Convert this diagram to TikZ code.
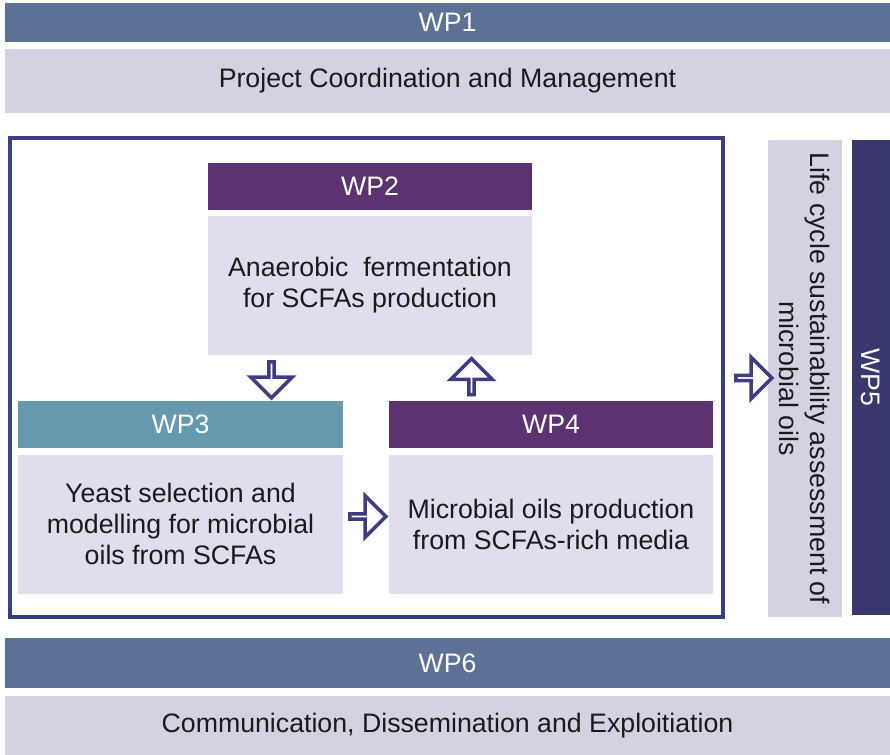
\documentclass[tikz,border=0pt]{standalone}
\usepackage{fontspec}
\setmainfont{Liberation Sans}
\usetikzlibrary{positioning,shapes.arrows}
\definecolor{wpblue}{HTML}{5D7096}
\definecolor{wppurple}{HTML}{5C3370}
\definecolor{wpteal}{HTML}{6698AE}
\definecolor{wpnavy}{HTML}{38386F}
\definecolor{lilac}{HTML}{D6D1E1}
\definecolor{lilaclight}{HTML}{E1DDEC}
\definecolor{framenavy}{HTML}{3D3E7F}
\definecolor{ink}{HTML}{1A1A1A}

\begin{document}
\begin{tikzpicture}[x=0.025cm,y=-0.025cm,
  wpbar/.style={fill=#1, text=white, inner sep=0pt, font=\fontsize{19}{22}\selectfont},
  wpbody/.style={fill=#1, text=ink, inner sep=0pt, align=center, font=\fontsize{19}{22}\selectfont},
  blockarrow/.style={single arrow, draw=framenavy, fill=white, line width=2.5pt,
    minimum height=0.9cm, minimum width=1.04cm, single arrow head extend=0.29cm, inner sep=0pt}]
  \useasboundingbox (0,0) rectangle (890,755);

  % top and bottom bands
  \node[wpbar=wpblue, minimum width=22.125cm, minimum height=0.975cm] (wp1) at (447.5,22.5) {WP1};
  \node[wpbody=lilac, minimum width=22.125cm, minimum height=1.6cm] (wp1body) at (447.5,81) {Project Coordination and Management};
  \node[wpbar=wpblue, minimum width=22.125cm, minimum height=1.25cm] (wp6) at (447.5,663) {WP6};
  \node[wpbody=lilac, minimum width=22.125cm, minimum height=1.475cm] (wp6body) at (447.5,725.5) {Communication, Dissemination and Exploitiation};

  % frame round WP2-WP4
  \draw[framenavy, line width=2.8pt] (10,138) rectangle (723,617);

  \node[wpbar=wppurple, minimum width=8.1cm, minimum height=1.175cm] (wp2) at (370,186.5) {WP2};
  \node[wpbody=lilaclight, minimum width=8.1cm, minimum height=3.475cm, below=0.125cm of wp2] (wp2body) {Anaerobic~ fermentation\\for SCFAs production};

  \node[wpbar=wpteal, minimum width=8.125cm, minimum height=1.175cm] (wp3) at (180.5,424.5) {WP3};
  \node[wpbody=lilaclight, minimum width=8.125cm, minimum height=3.475cm, below=0.15cm of wp3] (wp3body) {Yeast selection and\\modelling for microbial\\oils from SCFAs};

  \node[wpbar=wppurple, minimum width=8.1cm, minimum height=1.175cm] (wp4) at (551,424.5) {WP4};
  \node[wpbody=lilaclight, minimum width=8.1cm, minimum height=3.475cm, below=0.15cm of wp4] (wp4body) {Microbial oils production\\from SCFAs-rich media};

  % WP5 column
  \node[wpbody=lilac, rotate=-90, minimum width=11.925cm, minimum height=1.85cm] (wp5body) at (805,378.5) {Life cycle sustainability assessment of\\microbial oils};
  \node[wpbar=wpnavy, rotate=-90, minimum width=11.875cm, minimum height=0.95cm] (wp5) at (871,377.5) {WP5};

  % block arrows
  \node[blockarrow, rotate=-90] (a23) at (271.5,378.5) {};
  \node[blockarrow, rotate=90] (a42) at (471.5,378) {};
  \node[blockarrow] (a34) at (366.5,516.5) {};
  \node[blockarrow] (a45) at (752.5,378) {};
\end{tikzpicture}
\end{document}
